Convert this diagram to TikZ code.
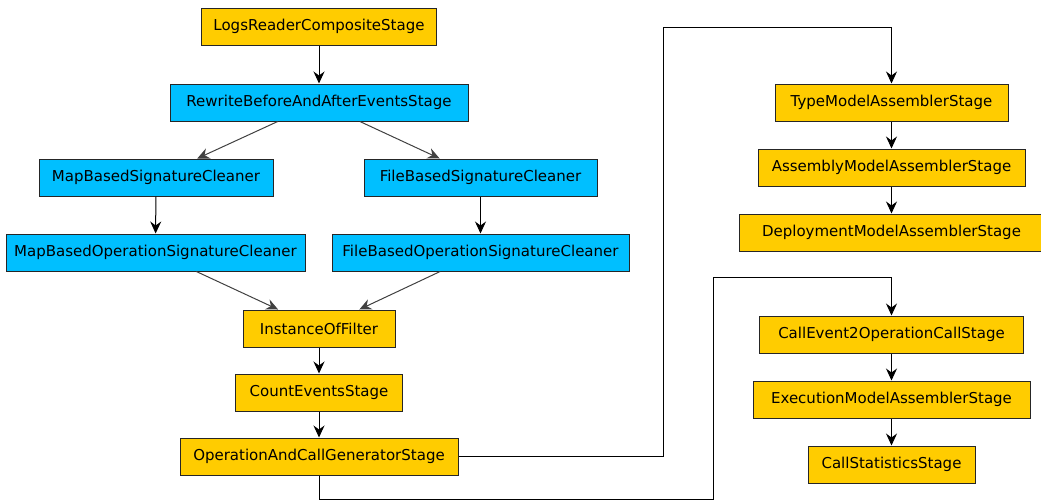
\documentclass[tikz,border=0pt]{standalone}
\usepackage{fontspec}
\setmainfont{DejaVu Sans}
\usetikzlibrary{positioning,arrows.meta}
\definecolor{stageyellow}{RGB}{255,204,0}
\definecolor{stageblue}{RGB}{0,191,255}

\begin{document}
\begin{tikzpicture}[x=1pt, y=1pt,
  every node/.style={draw=black!85, line width=1pt, minimum height=37pt, inner xsep=5pt, font=\fontsize{15}{18}\selectfont},
  yel/.style={fill=stageyellow},
  blu/.style={fill=stageblue},
  link/.style={draw=black, line width=1pt, -{Stealth[length=12pt,width=11pt,inset=4pt]}},
  slant/.style={link, draw=black!75}]
  \useasboundingbox (0,0) rectangle (1041,-501);

  % linke Spalte
  \node[yel, minimum width=235pt] (logs) at (319,-26.5) {LogsReaderCompositeStage};
  \node[blu, minimum width=298pt] (rewrite) at (319,-102.5) {RewriteBeforeAndAfterEventsStage};
  \node[blu, minimum width=234pt] (mapsig) at (156,-177.5) {MapBasedSignatureCleaner};
  \node[blu, minimum width=233pt] (filesig) at (480.5,-177.5) {FileBasedSignatureCleaner};
  \node[blu, minimum width=299pt] (mapop) at (155.5,-252.5) {MapBasedOperationSignatureCleaner};
  \node[blu, minimum width=297pt] (fileop) at (480.5,-252.5) {FileBasedOperationSignatureCleaner};
  \node[yel, minimum width=152pt] (filter) at (319,-328.5) {InstanceOfFilter};
  \node[yel, minimum width=167pt] (count) at (319,-392.5) {CountEventsStage};
  \node[yel, minimum width=278pt] (opcall) at (319,-456.5) {OperationAndCallGeneratorStage};

  % rechte Spalte oben
  \node[yel, minimum width=233pt] (typemodel) at (891.5,-102.5) {TypeModelAssemblerStage};
  \node[yel, minimum width=267pt, below=27pt of typemodel] (assembly) {AssemblyModelAssemblerStage};
  \node[yel, minimum width=305pt, below=27pt of assembly] (deploy) {DeploymentModelAssemblerStage};

  % rechte Spalte unten
  \node[yel, minimum width=264pt] (callevent) at (891.5,-334.5) {CallEvent2OperationCallStage};
  \node[yel, minimum width=277pt, below=27pt of callevent] (execution) {ExecutionModelAssemblerStage};
  \node[yel, minimum width=167pt, below=27pt of execution] (callstats) {CallStatisticsStage};

  % Pfeile links
  \draw[link] (logs) -- (rewrite);
  \draw[slant] (rewrite) -- (mapsig);
  \draw[slant] (rewrite) -- (filesig);
  \draw[link] (mapsig) -- (mapop);
  \draw[link] (filesig) -- (fileop);
  \draw[slant] (mapop) -- (filter);
  \draw[slant] (fileop) -- (filter);
  \draw[link] (filter) -- (count);
  \draw[link] (count) -- (opcall);

  % Pfeile rechts
  \draw[link] (typemodel) -- (assembly);
  \draw[link] (assembly) -- (deploy);
  \draw[link] (callevent) -- (execution);
  \draw[link] (execution) -- (callstats);

  % Verbindungen zwischen den Spalten
  \draw[link] (opcall.east) -| (663,-27) -| (typemodel.north);
  \draw[link] (opcall.south) -- ++(0,-24) -| (713,-277) -| (callevent.north);
\end{tikzpicture}
\end{document}
